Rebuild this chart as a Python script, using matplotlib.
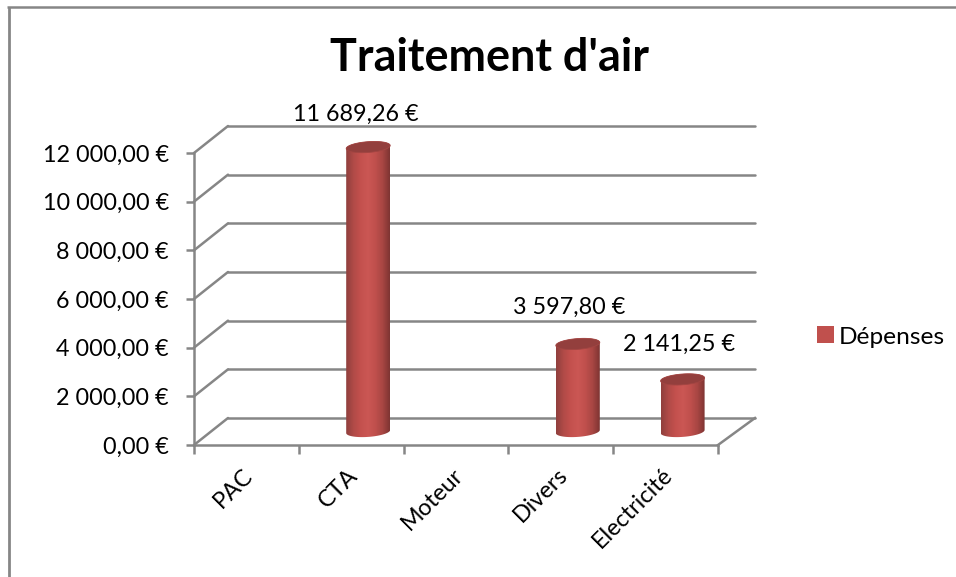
import numpy as np
import matplotlib
matplotlib.use("Agg")
import matplotlib.pyplot as plt
from matplotlib.colors import LinearSegmentedColormap
from matplotlib.lines import Line2D
from matplotlib.patches import Polygon, Rectangle
from matplotlib.transforms import Affine2D

categories = ["PAC", "CTA", "Moteur", "Divers", "Electricité"]
depenses = [0, 11689.26, 0, 3597.80, 2141.25]
value_labels = ["", "11 689,26 €", "", "3 597,80 €", "2 141,25 €"]
y_ticks = [0, 2000, 4000, 6000, 8000, 10000, 12000]
y_tick_labels = ["0,00 €", "2 000,00 €", "4 000,00 €", "6 000,00 €",
                 "8 000,00 €", "10 000,00 €", "12 000,00 €"]
title = "Traitement d'air"
series_name = "Dépenses"

W, H = 956, 577
GRID = "#868686"
RED = "#c0504d"
FS = 16.8
plt.rcParams["font.family"] = ["Lato", "DejaVu Sans"]

fig = plt.figure(figsize=(W / 100, H / 100), dpi=100, facecolor="white")
L, R, T, B = 194, 718, 153, 445
ax = fig.add_axes([L / W, 1 - B / H, (R - L) / W, (B - T) / H])
ax.set_xlim(-0.5, 4.5)
ax.set_ylim(0, 12000)
ax.set_facecolor("none")

# outer chart frame (top and left edges show)
fig.add_artist(Line2D([8.5 / W, 8.5 / W], [0, 1 - 7 / H], color=GRID, lw=2.0,
                      solid_capstyle="butt"))
fig.add_artist(Line2D([7 / W, 1], [1 - 7 / H, 1 - 7 / H], color=GRID, lw=1.8,
                      solid_capstyle="butt"))

# depth of the 3D box, in pixels
DX, DY = 34, 27
back = ax.transData + Affine2D().translate(DX, DY)
mid = ax.transData + Affine2D().translate(DX / 2, DY / 2)
px_x = 5 / (R - L)
px_y = 12000 / (B - T)
LW = 1.8

for v in y_ticks:
    ax.plot([-0.5, 4.5 + 3 * px_x], [v, v], color=GRID, lw=LW, transform=back,
            clip_on=False, zorder=1, solid_capstyle="round")
    ax.plot([-0.5, -0.5 + DX * px_x], [v, v + DY * px_y], color=GRID, lw=LW,
            clip_on=False, zorder=1, solid_capstyle="round")
ax.plot([4.5, 4.5 + (DX + 3) * px_x], [0, DY * px_y], color=GRID, lw=LW,
        clip_on=False, zorder=1)

# cylinders
cmap = LinearSegmentedColormap.from_list(
    "cyl", ["#8f3f3d", "#b04a47", "#c4514e", "#cb5754", "#c0504d", "#a84643", "#7d3432"])
grad = np.linspace(0, 1, 256).reshape(1, -1)
A, BB, SHEAR = 22, 5.4, 0.07


def ellipse(cx, cy, t):
    ex = A * np.cos(t)
    ey = BB * np.sin(t) + SHEAR * A * np.cos(t)
    return cx + ex * px_x, cy + ey * px_y


for i, v in enumerate(depenses):
    if v <= 0:
        continue
    tb = np.linspace(np.pi, 2 * np.pi, 60)
    tt = np.linspace(0, np.pi, 60)
    xb, yb = ellipse(i, 0, tb)
    xt, yt = ellipse(i, v, tt)
    verts = np.column_stack([np.r_[xb, xt], np.r_[yb, yt]])
    body = Polygon(verts, closed=True, transform=mid, fc="none", ec="none",
                   zorder=3, clip_on=False)
    ax.add_patch(body)
    im = ax.imshow(grad, cmap=cmap, aspect="auto", zorder=3, transform=mid,
                   extent=[i - A * px_x, i + A * px_x, -BB * 2 * px_y, v + BB * 2 * px_y],
                   interpolation="bilinear")
    im.set_clip_box(fig.bbox)
    im.set_clip_path(body)
    ta = np.linspace(0, 2 * np.pi, 120)
    xe, ye = ellipse(i, v, ta)
    ax.add_patch(Polygon(np.column_stack([xe, ye]), closed=True, transform=mid,
                         fc="#933f3d", ec="#a24542", lw=0.6, zorder=4, clip_on=False))

ax.set_xlim(-0.5, 4.5)
ax.set_ylim(0, 12000)

# data labels
label_offsets = [None, (5, 46), None, (8, 50.5), (13, 49)]
for i, (v, s) in enumerate(zip(depenses, value_labels)):
    if s:
        ax.annotate(s, (i, v), xytext=label_offsets[i], textcoords="offset pixels",
                    ha="center", va="center", fontsize=FS, color="black",
                    annotation_clip=False)

# axes
for s in ("top", "right"):
    ax.spines[s].set_visible(False)
for s in ("left", "bottom"):
    ax.spines[s].set_color(GRID)
    ax.spines[s].set_linewidth(LW)
ax.set_yticks(y_ticks, y_tick_labels, fontsize=FS)
ax.tick_params(axis="y", length=6, width=LW, color=GRID, pad=12, labelcolor="black")
ax.set_xticks(np.arange(-0.5, 5, 1), [""] * 6)
ax.tick_params(axis="x", which="major", length=6.5, width=LW, color=GRID)
ax.set_xticks(np.arange(5), categories, minor=True, rotation=45, ha="right",
              rotation_mode="anchor", fontsize=FS)
ax.tick_params(axis="x", which="minor", length=0, pad=14, labelcolor="black")
shift = Affine2D().translate(-4, 0)
for lab in ax.get_xticklabels(minor=True):
    lab.set_transform(lab.get_transform() + shift)

fig.text(489 / W, 1 - 58 / H, title, fontsize=32.4, fontweight="bold",
         ha="center", va="center", color="black")

handle = Rectangle((0, 0), 1, 1, fc=RED, ec="none")
fig.legend([handle], [series_name], loc="center left",
           bbox_to_anchor=(812 / W, 1 - 337 / H), frameon=False, fontsize=17.6,
           handlelength=0.69, handleheight=0.69, handletextpad=0.2,
           borderpad=0.2, borderaxespad=0)

fig.savefig("out.png", dpi=100, facecolor="white")
